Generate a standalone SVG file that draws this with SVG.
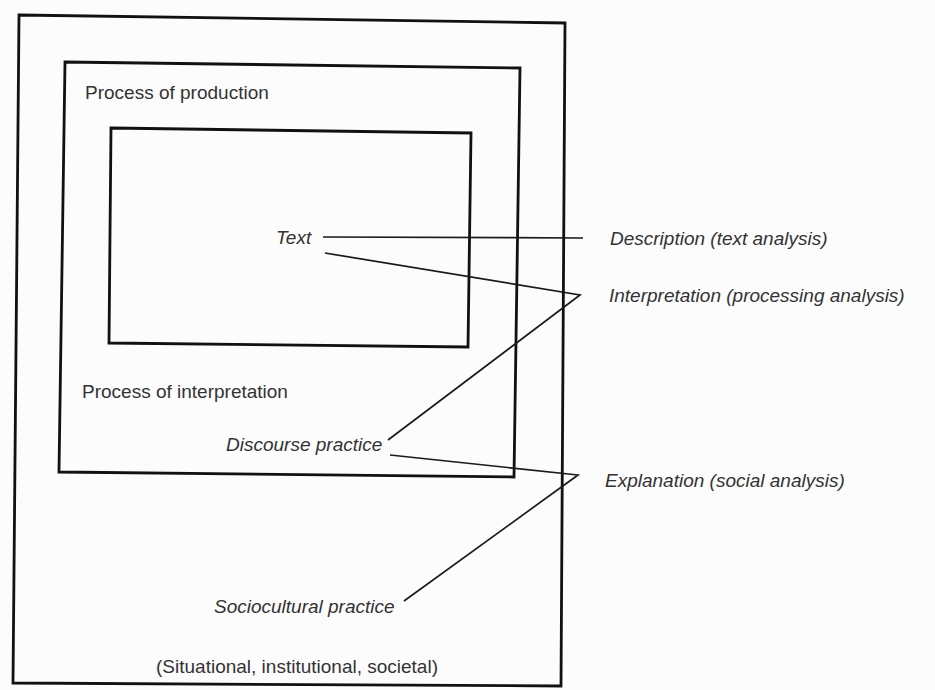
<svg xmlns="http://www.w3.org/2000/svg" width="935" height="690" viewBox="0 0 935 690">
  <style>
    .box { fill: none; stroke: #111; stroke-width: 2.8; stroke-linejoin: miter; }
    .conn { fill: none; stroke: #1a1a1a; stroke-width: 1.7; }
    .lbl { font-family: "Liberation Sans", Arial, sans-serif; font-size: 19px; fill: #333; }
    .it { font-style: italic; }
  </style>
  <rect x="0" y="0" width="935" height="690" fill="#fcfcfc"/>

  <g id="sociocultural-practice">
    <polygon class="box" points="19,15 565,23 561,686 13,683"/>
    <text class="lbl it" x="214" y="613">Sociocultural practice</text>
    <text class="lbl" x="156" y="673">(Situational, institutional, societal)</text>
  </g>

  <g id="discourse-practice">
    <polygon class="box" points="65,62 520,68 514,477 59,472"/>
    <text class="lbl" x="85" y="99">Process of production</text>
    <text class="lbl" x="82" y="398">Process of interpretation</text>
    <text class="lbl it" x="226" y="451">Discourse practice</text>
  </g>

  <g id="text">
    <polygon class="box" points="111,128 471,133 468,347 109,343"/>
    <text class="lbl it" x="276" y="244">Text</text>
  </g>

  <g id="description">
    <text class="lbl it" x="610" y="245">Description (text analysis)</text>
  </g>
  <g id="interpretation">
    <text class="lbl it" x="609" y="302">Interpretation (processing analysis)</text>
  </g>
  <g id="explanation">
    <text class="lbl it" x="605" y="487">Explanation (social analysis)</text>
  </g>

  <g id="connectors">
    <line class="conn" x1="323" y1="237" x2="583" y2="238"/>
    <polyline class="conn" points="325,253 580,295 388,440"/>
    <polyline class="conn" points="390,455 578,475 404,601"/>
  </g>
</svg>
